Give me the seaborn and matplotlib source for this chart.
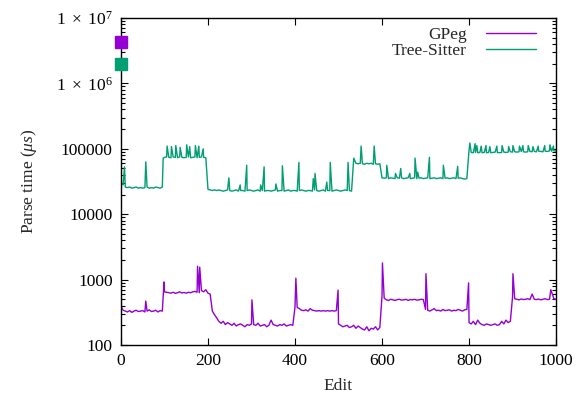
import matplotlib
matplotlib.use("Agg")
import matplotlib.pyplot as plt
import matplotlib.ticker as mticker
import seaborn as sns
import pandas as pd

# edits sampled every 5 (first sample is edit 1)
base_edits = [1] + list(range(5, 1001, 5))

# initial full parse (edit 0)
gpeg_initial = 4.3e6
ts_initial = 2.0e6

gpeg_base = [
    380, 340, 330, 320, 335, 315, 330, 340, 325, 330,
    335, 320, 330, 345, 325, 330, 340, 320, 335, 330,
    650, 640, 630, 620, 640, 615, 630, 650, 625, 635,
    620, 640, 630, 650, 660, 640, 630, 680, 650, 700,
    620, 600, 330, 290, 260, 230, 215, 230, 205, 220,
    210, 200, 215, 195, 205, 210, 200, 190, 205, 200,
    210, 205, 200, 215, 195, 200, 205, 190, 200, 240,
    205, 200, 195, 205, 200, 210, 195, 200, 205, 200,
    380, 375, 360, 340, 335, 345, 330, 360, 340, 335,
    330, 335, 330, 335, 330, 335, 330, 335, 330, 335,
    210, 200, 190, 195, 200, 185, 190, 200, 180, 195,
    185, 175, 170, 190, 165, 180, 175, 190, 170, 185,
    560, 520, 490, 480, 500, 490, 480, 495, 500, 485,
    490, 500, 480, 495, 490, 500, 485, 490, 500, 495,
    350, 340, 330, 345, 360, 335, 340, 330, 350, 335,
    340, 345, 330, 340, 335, 350, 340, 330, 345, 350,
    220, 210, 230, 205, 240, 215, 205, 200, 210, 205,
    200, 205, 210, 200, 205, 230, 210, 240, 220, 230,
    540, 510, 500, 490, 505, 495, 500, 510, 495, 600,
    500, 495, 505, 490, 500, 510, 495, 500, 640, 510,
    500,
]
gpeg_spike_edits = [57, 99, 176, 181, 301, 402, 499, 601, 701, 799, 901, 988]
gpeg_spike_times = [470, 920, 1600, 1550, 490, 1050, 690, 1800, 1230, 890, 1230, 700]

ts_base = [
    30000, 28000, 26000, 25500, 26000, 25000, 25500, 26000, 25000, 25500,
    25000, 25500, 26000, 25000, 25500, 25000, 26000, 25500, 25000, 26000,
    74000, 75000, 74000, 73000, 75000, 74000, 73000, 75000, 74000, 73000,
    74000, 75000, 73000, 74000, 75000, 73000, 74000, 75000, 74000, 73000,
    24000, 23500, 23000, 23500, 23000, 23500, 23000, 22500, 23000, 23500,
    23000, 22500, 23000, 23500, 22500, 23000, 23000, 22500, 23000, 23500,
    23000, 22500, 23000, 23500, 22500, 23000, 22500, 23000, 23000, 22500,
    23000, 23500, 22500, 23000, 23000, 22500, 23000, 23500, 22500, 23000,
    23000, 22500, 23000, 23500, 23000, 22500, 23000, 23000, 22500, 23500,
    23000, 22500, 23000, 23500, 22500, 23000, 23000, 22500, 23000, 23500,
    23000, 22500, 23000, 23500, 23000, 23000, 22500, 72000, 60000, 59000,
    60000, 59000, 58000, 60000, 59000, 60000, 58000, 59000, 58000, 59000,
    36000, 35500, 36000, 35000, 36000, 35500, 35000, 36000, 35500, 36000,
    35000, 35500, 36000, 35000, 35500, 36000, 35000, 35500, 36000, 35000,
    35500, 36000, 35000, 35500, 36000, 35000, 35500, 36000, 35000, 35500,
    36000, 35000, 35500, 36000, 35000, 35500, 36000, 35000, 34500, 35000,
    95000, 88000, 87000, 88000, 87000, 88000, 87000, 88000, 87000, 88000,
    87000, 88000, 89000, 88000, 87000, 88000, 89000, 88000, 89000, 90000,
    89000, 90000, 89000, 90000, 91000, 90000, 89000, 90000, 91000, 90000,
    91000, 90000, 92000, 91000, 90000, 92000, 91000, 93000, 92000, 93000,
    92000,
]
ts_spike_edits = [8, 57, 97, 106, 116, 126, 136, 151, 158, 171, 179, 189,
                  248, 274, 289, 321, 329, 356, 371, 409, 442, 446, 473, 481, 522,
                  552, 582, 611, 631, 643, 664, 676, 682, 709, 741, 774,
                  802, 814, 818, 828, 839, 848, 864, 876, 891, 901, 916, 924,
                  936, 947, 959, 974, 986, 994]
ts_spike_times = [53000, 63000, 72000, 110000, 108000, 112000, 105000, 115000,
                  108000, 112000, 110000, 100000,
                  36000, 28000, 56000, 28000, 53000, 29000, 55000, 62000, 35000,
                  42000, 31000, 62000, 62000,
                  110000, 110000, 56000, 42000, 50000, 42000, 72000, 44000, 74000,
                  56000, 54000,
                  123000, 120000, 112000, 110000, 112000, 108000, 110000, 112000,
                  108000, 112000, 110000, 112000, 112000, 108000, 110000, 112000,
                  115000, 110000]

parsers = ["GPeg", "Tree-Sitter"]
colors = {"GPeg": "#9400d3", "Tree-Sitter": "#009e73"}


def series(name, initial, base, sp_e, sp_t):
    edits = [0] + base_edits + sp_e
    times = [initial] + base + sp_t
    d = pd.DataFrame({"edit": edits, "time": times})
    d["parser"] = name
    return d.sort_values("edit")


df = pd.concat([
    series("GPeg", gpeg_initial, gpeg_base, gpeg_spike_edits, gpeg_spike_times),
    series("Tree-Sitter", ts_initial, ts_base, ts_spike_edits, ts_spike_times),
], ignore_index=True)

sns.set_style("ticks")
plt.rcParams["font.family"] = ["Liberation Serif", "DejaVu Serif"]
plt.rcParams["mathtext.fontset"] = "custom"
plt.rcParams["mathtext.rm"] = "Liberation Serif"
plt.rcParams["mathtext.it"] = "Liberation Serif:italic"

fs = 12.5
fig = plt.figure(figsize=(5.78, 3.97), dpi=100)
ax = fig.add_axes([0.2093, 0.131, 0.7527, 0.8237])

sns.lineplot(data=df, x="edit", y="time", hue="parser", palette=colors,
             hue_order=parsers, estimator=None, sort=True, lw=1, ax=ax)

# initial parse markers
ax.plot([0], [gpeg_initial], "s", color=colors["GPeg"], ms=8, clip_on=False, zorder=5)
ax.plot([0], [ts_initial], "s", color=colors["Tree-Sitter"], ms=8, clip_on=False, zorder=5)

ax.set_yscale("log")
ax.set_xlim(0, 1000)
ax.set_ylim(100, 1e7)
ax.set_xticks(range(0, 1001, 200))
ax.set_yticks([100, 1000, 10000, 100000, 1e6, 1e7])
ax.set_yticklabels(["100", "1000", "10000", "100000",
                    r"$1\ \times\ 10^{6}$", r"$1\ \times\ 10^{7}$"])
ax.yaxis.set_minor_locator(mticker.LogLocator(base=10, subs=range(2, 10)))
ax.yaxis.set_minor_formatter(mticker.NullFormatter())
ax.tick_params(which="both", direction="in", top=True, right=True, labelsize=fs, colors="black")
ax.tick_params(which="major", length=5, width=0.8, pad=6)
ax.tick_params(which="minor", length=3, width=0.8)
for s in ax.spines.values():
    s.set_linewidth(1)
    s.set_color("black")

ax.set_xlabel("Edit", fontsize=fs, labelpad=6)
ax.set_ylabel(r"Parse time ($\mu s$)", fontsize=fs, labelpad=12)

handles, labels = ax.get_legend_handles_labels()
ax.legend(handles, labels, loc="upper right", bbox_to_anchor=(0.978, 1.005),
          frameon=False, markerfirst=False, handlelength=2.9, fontsize=fs,
          labelspacing=0.0, borderaxespad=0.2, handletextpad=1.1)

fig.savefig("out.png", dpi=100)
